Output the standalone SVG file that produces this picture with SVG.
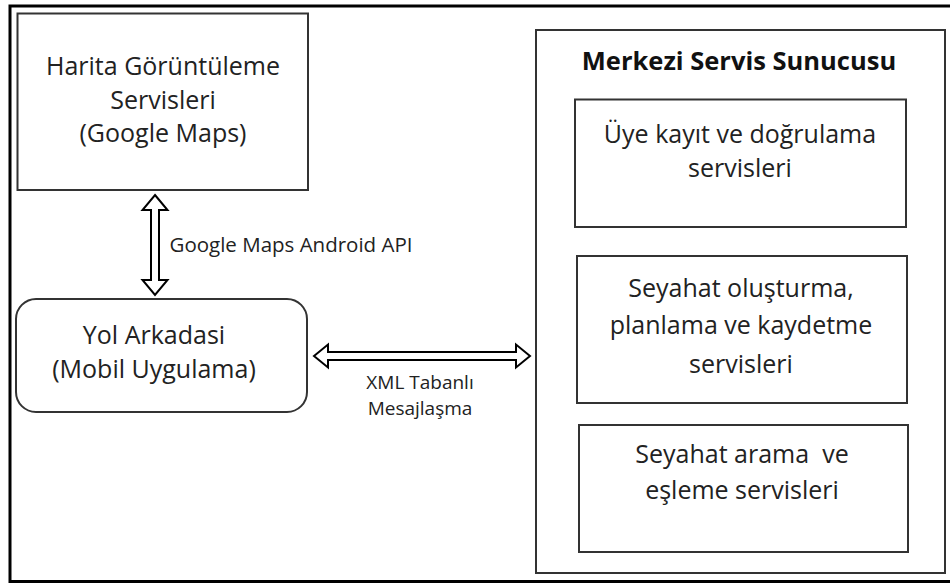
<svg xmlns="http://www.w3.org/2000/svg" width="950" height="583" viewBox="0 0 950 583">
<style>
.box{fill:#fff;stroke:#333;stroke-width:2}
.t{font-family:"Open Sans","Liberation Sans",sans-serif;fill:#222;text-anchor:middle}
.big{font-size:25px}
.lbl{font-size:20.5px}
.sm{font-size:19px}
.ttl{font-size:25.5px;font-weight:bold;fill:#111}
.arr{fill:#fff;stroke:#000;stroke-width:2;stroke-linejoin:miter}
</style>
<rect width="950" height="583" fill="#fff"/>
<path d="M950,6 H10 V581.5 H950" fill="none" stroke="#000" stroke-width="3"/>
<g id="harita">
<rect class="box" x="17.5" y="13.5" width="290.5" height="176.5"/>
<text class="t big" x="163" y="75">Harita Görüntüleme</text>
<text class="t big" x="163" y="109">Servisleri</text>
<text class="t big" x="163" y="142">(Google Maps)</text>
</g>
<g id="mobil">
<rect class="box" x="16" y="299" width="291" height="113" rx="20" ry="20"/>
<text class="t big" x="154" y="344">Yol Arkadasi</text>
<text class="t big" x="154" y="378">(Mobil Uygulama)</text>
</g>
<g id="sunucu">
<rect class="box" x="536" y="30" width="409" height="543"/>
<text class="t ttl" x="739" y="70">Merkezi Servis Sunucusu</text>
</g>
<g id="uye">
<rect class="box" x="575" y="99.5" width="331" height="127.5"/>
<text class="t big" x="740" y="143">Üye kayıt ve doğrulama</text>
<text class="t big" x="740" y="177">servisleri</text>
</g>
<g id="seyahat-olustur">
<rect class="box" x="577" y="256" width="330" height="147"/>
<text class="t big" x="741" y="297">Seyahat oluşturma,</text>
<text class="t big" x="741" y="334">planlama ve kaydetme</text>
<text class="t big" x="741" y="373">servisleri</text>
</g>
<g id="seyahat-arama">
<rect class="box" x="579" y="425" width="329" height="127"/>
<text class="t big" x="742" y="463" xml:space="preserve">Seyahat arama  ve</text>
<text class="t big" x="742" y="499">eşleme servisleri</text>
</g>
<g id="connectors">
<polygon class="arr" points="155,195 167.5,210 159,210 159,280 167.5,280 155,295 142.5,280 151,280 151,210 142.5,210"/>
<polygon class="arr" points="314,356 328,344.5 328,352 516,352 516,344.5 530,356 516,367.5 516,360 328,360 328,367.5"/>
<text class="t lbl" x="291" y="252">Google Maps Android API</text>
<text class="t sm" x="420" y="389">XML Tabanlı</text>
<text class="t sm" x="420" y="415">Mesajlaşma</text>
</g>
</svg>
